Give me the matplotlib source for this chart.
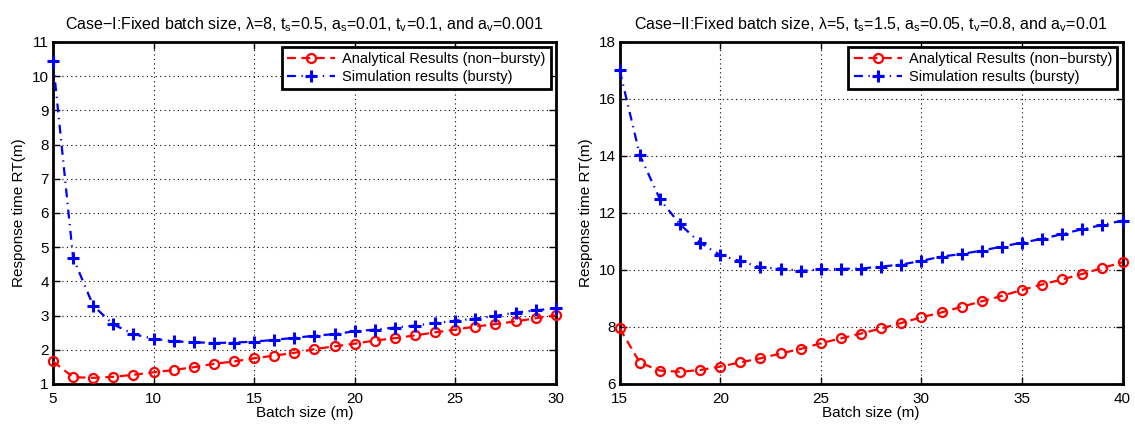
import matplotlib
matplotlib.use("Agg")
import matplotlib.pyplot as plt

plt.rcParams['font.family'] = ['Liberation Sans', 'DejaVu Sans']
plt.rcParams['mathtext.fontset'] = 'custom'
plt.rcParams['mathtext.rm'] = 'Liberation Sans'
plt.rcParams['mathtext.it'] = 'Liberation Sans'
plt.rcParams['font.size'] = 11

# Case I data
batch1 = list(range(5, 31))
analytic1 = [1.66, 1.20, 1.18, 1.21, 1.27, 1.34, 1.41, 1.49, 1.59, 1.66, 1.75, 1.83, 1.91,
             2.02, 2.10, 2.18, 2.27, 2.34, 2.42, 2.51, 2.59, 2.68, 2.75, 2.83, 2.92, 3.01]
sim1 = [10.44, 4.69, 3.29, 2.74, 2.46, 2.32, 2.25, 2.22, 2.20, 2.21, 2.24, 2.29, 2.35,
        2.41, 2.46, 2.54, 2.59, 2.65, 2.71, 2.78, 2.85, 2.91, 2.99, 3.09, 3.15, 3.22]

# Case II data
batch2 = list(range(15, 41))
analytic2 = [7.95, 6.75, 6.47, 6.43, 6.49, 6.61, 6.76, 6.90, 7.07, 7.23, 7.43, 7.60, 7.77,
             7.95, 8.14, 8.34, 8.51, 8.71, 8.90, 9.09, 9.30, 9.49, 9.67, 9.86, 10.07, 10.27]
sim2 = [17.0, 14.03, 12.48, 11.60, 10.95, 10.52, 10.31, 10.09, 10.05, 9.97, 10.02, 10.04, 10.05,
        10.12, 10.19, 10.32, 10.47, 10.56, 10.68, 10.82, 10.96, 11.09, 11.26, 11.43, 11.58, 11.73]

titles = [u"Case\u2212I:Fixed batch size, $\\lambda$=8, $t_s$=0.5, $a_s$=0.01, $t_v$=0.1, and $a_v$=0.001",
          u"Case\u2212II:Fixed batch size, $\\lambda$=5, $t_s$=1.5, $a_s$=0.05, $t_v$=0.8, and $a_v$=0.01"]

fig = plt.figure(figsize=(11.35, 4.26), dpi=100)
ax1 = fig.add_axes([0.0467, 0.0986, 0.443, 0.803])
ax2 = fig.add_axes([0.546, 0.0986, 0.443, 0.803])

panels = [(ax1, batch1, analytic1, sim1, (5, 30), (1, 11), range(5, 31, 5), range(1, 12)),
          (ax2, batch2, analytic2, sim2, (15, 40), (6, 18), range(15, 41, 5), range(6, 19, 2))]

for i, (ax, x, a, s, xl, yl, xt, yt) in enumerate(panels):
    ax.plot(x, a, color='red', linestyle=(0, (4, 2.5)), linewidth=1.6, marker='o', markersize=6.5,
            markerfacecolor='none', markeredgewidth=1.6, label='Analytical Results (non\u2212bursty)',
            clip_on=False, zorder=3)
    ax.plot(x, s, color='blue', linestyle=(0, (4, 2.5, 0.6, 2.5)), linewidth=1.6, marker='+', markersize=8,
            markeredgewidth=2.2, label='Simulation results (bursty)', clip_on=False, zorder=3)
    ax.set_xlim(*xl)
    ax.set_ylim(*yl)
    ax.set_xticks(list(xt))
    ax.set_yticks(list(yt))
    ax.grid(True, color='black', linestyle=(0, (1, 3)), linewidth=0.8)
    ax.tick_params(direction='in', top=True, right=True, length=5, width=1, labelsize=11)
    ax.tick_params(axis='x', pad=6)
    ax.tick_params(axis='y', pad=3)
    for sp in ax.spines.values():
        sp.set_linewidth(2)
    ax.set_xlabel('Batch size (m)', labelpad=0, fontsize=11)
    ax.set_ylabel('Response time RT(m)', labelpad=4, fontsize=11)
    ax.set_title(titles[i], fontsize=11.5, pad=9)
    leg = ax.legend(loc='upper right', fancybox=False, framealpha=1, edgecolor='black',
                    borderaxespad=0.35, handlelength=3.3, borderpad=0.35, labelspacing=0.25,
                    handletextpad=0.5, fontsize=10.5)
    leg.get_frame().set_linewidth(2)

fig.savefig('out.png', dpi=100)
